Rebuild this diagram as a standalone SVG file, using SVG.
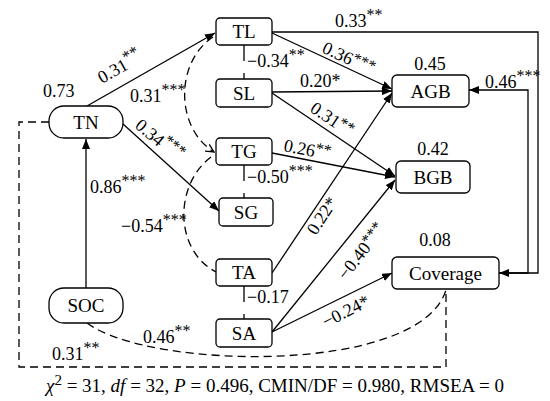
<svg xmlns="http://www.w3.org/2000/svg" width="550" height="401" viewBox="0 0 550 401" font-family="Liberation Serif, Times New Roman, DejaVu Serif, serif">
<style>
text{font-family:'Liberation Serif','Times New Roman','DejaVu Serif',serif;fill:#000}
.n{font-size:19px;text-anchor:middle}
.l{font-size:18px}
.s{font-size:16px}
.box{fill:#fff;stroke:#000;stroke-width:1.3}
.e{fill:none;stroke:#000;stroke-width:1.3}
.d{fill:none;stroke:#000;stroke-width:1.3;stroke-dasharray:8,5}
.c{fill:none;stroke:#000;stroke-width:1.3;stroke-dasharray:16,12}
</style>
<defs>
<marker id="a" viewBox="0 0 10 8" refX="10" refY="4" markerWidth="10" markerHeight="8" markerUnits="userSpaceOnUse" orient="auto">
<path d="M0,0 L10,4 L0,8 Z" fill="#000"/>
</marker>
<marker id="o" viewBox="0 0 10 10" refX="9" refY="5" markerWidth="10" markerHeight="10" markerUnits="userSpaceOnUse" orient="auto">
<path d="M1,1 L9,5 L1,9" fill="none" stroke="#000" stroke-width="1.3"/>
</marker>
</defs>
<g id="connectors">
<path class="e" d="M87,106 L215,33" marker-end="url(#a)"/>
<path class="e" d="M123,124 L219,211" marker-end="url(#a)"/>
<path class="e" d="M86,288 L86,139" marker-end="url(#a)"/>
<path class="e" d="M272,33 L392,89" marker-end="url(#a)"/>
<path class="e" d="M272,92 L392,91" marker-end="url(#a)"/>
<path class="e" d="M272,93 L395,176" marker-end="url(#a)"/>
<path class="e" d="M272,153 L395,177" marker-end="url(#a)"/>
<path class="e" d="M272,273 L392,93" marker-end="url(#a)"/>
<path class="e" d="M272,332 L395,180" marker-end="url(#a)"/>
<path class="e" d="M272,332 L392,273" marker-end="url(#a)"/>
<path class="e" d="M272,32 H538 V273 H499" marker-end="url(#a)"/>
<path class="e" d="M499,273 H528 V90 H469" marker-end="url(#a)"/>
<path class="c" d="M244,45 V79"/>
<path class="c" d="M244,165 V198"/>
<path class="c" d="M244,286 V319"/>
<path class="d" d="M213,37 C175,62 175,128 214,152" marker-end="url(#o)"/>
<path class="d" d="M211,157 C174,185 174,250 216,272"/>
<path class="d" d="M87,323 C150,370 420,375 446,290"/>
<path class="d" d="M49,122 H19 V367 H446 V289"/>
</g>
<g id="TL"><rect class="box" x="216" y="18" width="56" height="27" rx="4"/><text class="n" x="244" y="38">TL</text></g>
<g id="SL"><rect class="box" x="216" y="79" width="56" height="28" rx="4"/><text class="n" x="244" y="100">SL</text></g>
<g id="TG"><rect class="box" x="216" y="138" width="56" height="27" rx="4"/><text class="n" x="244" y="158">TG</text></g>
<g id="SG"><rect class="box" x="219" y="198" width="54" height="28" rx="4"/><text class="n" x="246" y="219">SG</text></g>
<g id="TA"><rect class="box" x="216" y="259" width="56" height="27" rx="4"/><text class="n" x="244" y="279">TA</text></g>
<g id="SA"><rect class="box" x="216" y="319" width="56" height="28" rx="4"/><text class="n" x="244" y="340">SA</text></g>
<g id="AGB"><rect class="box" x="392" y="75" width="77" height="32" rx="5"/><text class="n" x="430.5" y="98">AGB</text></g>
<g id="BGB"><rect class="box" x="396" y="161" width="74" height="32" rx="5"/><text class="n" x="433" y="184">BGB</text></g>
<g id="Coverage"><rect class="box" x="392" y="257" width="107" height="32" rx="5"/><text class="n" x="445.5" y="280">Coverage</text></g>
<g id="TN"><rect class="box" x="49" y="106" width="74" height="32" rx="15"/><text class="n" x="86" y="129">TN</text></g>
<g id="SOC"><rect class="box" x="49" y="288" width="74" height="35" rx="15"/><text class="n" x="86" y="312">SOC</text></g>
<g id="labels">
<text class="l" x="43" y="97">0.73</text>
<text class="l" x="430" y="70" text-anchor="middle">0.45</text>
<text class="l" x="433" y="155" text-anchor="middle">0.42</text>
<text class="l" x="435" y="246" text-anchor="middle">0.08</text>
<text class="l" x="335" y="27">0.33<tspan class="s" dy="-7">**</tspan></text>
<text class="l" x="485" y="88">0.46<tspan class="s" dy="-7">***</tspan></text>
<text class="l" transform="translate(102,84) rotate(-29.5)">0.31<tspan class="s" dy="-7">**</tspan></text>
<text class="l" x="130" y="102">0.31<tspan class="s" dy="-7">***</tspan></text>
<text class="l" transform="translate(134,127) rotate(40)">0.34<tspan class="s" dy="-7">***</tspan></text>
<text class="l" x="90" y="193">0.86<tspan class="s" dy="-7">***</tspan></text>
<text class="l" x="121" y="232">−0.54<tspan class="s" dy="-7">***</tspan></text>
<text class="l" x="143" y="343">0.46<tspan class="s" dy="-7">**</tspan></text>
<text class="l" x="52" y="360">0.31<tspan class="s" dy="-7">**</tspan></text>
<text class="l" x="247" y="67">−0.34<tspan class="s" dy="-7">**</tspan></text>
<text class="l" x="247" y="183">−0.50<tspan class="s" dy="-7">***</tspan></text>
<text class="l" x="247" y="303">−0.17</text>
<text class="l" x="300" y="87">0.20*</text>
<text class="l" transform="translate(321,52) rotate(25)">0.36<tspan class="s" dy="-4">***</tspan></text>
<text class="l" transform="translate(309,111) rotate(34)">0.31<tspan class="s" dy="-4">**</tspan></text>
<text class="l" transform="translate(283,151) rotate(11)">0.26<tspan class="s" dy="-4">**</tspan></text>
<text class="l" transform="translate(316,236) rotate(-57)">0.22*</text>
<text class="l" transform="translate(346,281) rotate(-52)">−0.40<tspan class="s" dy="-4">***</tspan></text>
<text class="l" transform="translate(326,328) rotate(-27)">−0.24*</text>
<text font-size="19" x="275" y="392" text-anchor="middle"><tspan font-style="italic">χ</tspan><tspan font-size="15" dy="-7">2</tspan><tspan dy="7"> = 31, </tspan><tspan font-style="italic">df</tspan> = 32, <tspan font-style="italic">P</tspan> = 0.496, CMIN/DF = 0.980, RMSEA = 0</text>
</g>
</svg>
